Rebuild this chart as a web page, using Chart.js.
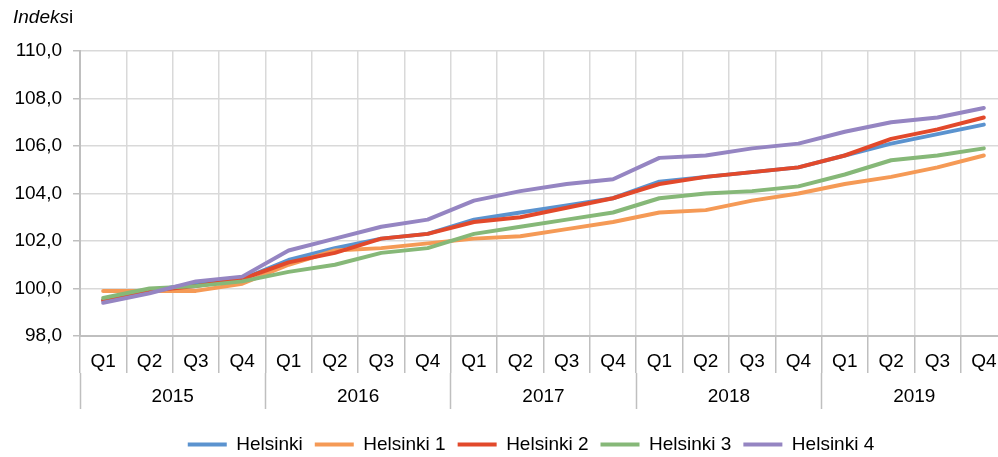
<!DOCTYPE html>
<html>
<head>
<meta charset="utf-8">
<script src="https://cdn.jsdelivr.net/npm/chart.js@4/dist/chart.umd.min.js"></script>
<style>
  html, body { margin: 0; padding: 0; background: #fff; overflow: hidden; }
  #wrap { width: 998px; height: 457px; overflow: hidden; }
</style>
</head>
<body>
<div id="wrap"><canvas id="chart" width="1052" height="466"></canvas></div>
<script>
// Index series by quarter, 2015-2019
const years = ['2015', '2016', '2017', '2018', '2019'];
const quarters = ['Q1', 'Q2', 'Q3', 'Q4'];
const seriesNames = ['Helsinki', 'Helsinki 1', 'Helsinki 2', 'Helsinki 3', 'Helsinki 4'];

const helsinki  = [99.5, 99.9, 100.2, 100.4, 101.2, 101.7, 102.1, 102.3, 102.9, 103.2, 103.5, 103.8, 104.5, 104.7, 104.9, 105.1, 105.6, 106.1, 106.5, 106.9];
const helsinki1 = [99.9, 99.9, 99.9, 100.2, 101.0, 101.6, 101.7, 101.9, 102.1, 102.2, 102.5, 102.8, 103.2, 103.3, 103.7, 104.0, 104.4, 104.7, 105.1, 105.6];
const helsinki2 = [99.5, 99.9, 100.1, 100.4, 101.1, 101.5, 102.1, 102.3, 102.8, 103.0, 103.4, 103.8, 104.4, 104.7, 104.9, 105.1, 105.6, 106.3, 106.7, 107.2];
const helsinki3 = [99.6, 100.0, 100.1, 100.3, 100.7, 101.0, 101.5, 101.7, 102.3, 102.6, 102.9, 103.2, 103.8, 104.0, 104.1, 104.3, 104.8, 105.4, 105.6, 105.9];
const helsinki4 = [99.4, 99.8, 100.3, 100.5, 101.6, 102.1, 102.6, 102.9, 103.7, 104.1, 104.4, 104.6, 105.5, 105.6, 105.9, 106.1, 106.6, 107.0, 107.2, 107.6];

const yTicks = { min: 98, max: 110, step: 2 };

const colors = ['#5B93CF', '#F59A56', '#E2492B', '#86B878', '#9585C2'];
const FONT = "'Liberation Sans', Arial, sans-serif";
const SIZE = 19;

let labels = [];
years.forEach(y => quarters.forEach(q => labels.push(q)));

const allData = [helsinki, helsinki1, helsinki2, helsinki3, helsinki4];
const datasets = allData.map((d, i) => ({
  label: seriesNames[i],
  data: d,
  borderColor: colors[i],
  backgroundColor: colors[i],
  borderWidth: 4,
  pointRadius: 0,
  tension: 0,
  borderCapStyle: 'round',
  borderJoinStyle: 'round',
  order: 4 - i
}));

// "Indeksi" label top-left
const titlePlugin = {
  id: 'unitTitle',
  afterDraw(chart) {
    const ctx = chart.ctx;
    ctx.save();
    ctx.fillStyle = '#000';
    ctx.textBaseline = 'alphabetic';
    ctx.font = 'italic ' + SIZE + 'px ' + FONT;
    ctx.fillText('Indeks', 13, 23);
    let w = ctx.measureText('Indeks').width;
    ctx.font = SIZE + 'px ' + FONT;
    ctx.fillText('i', 13 + w, 23);
    ctx.restore();
  }
};

new Chart(document.getElementById('chart'), {
  type: 'line',
  data: { labels: labels, datasets: datasets },
  plugins: [titlePlugin],
  options: {
    responsive: false,
    animation: false,
    layout: { padding: { left: 10, top: 51, right: 0, bottom: 2 } },
    plugins: {
      tooltip: { enabled: false },
      legend: {
        position: 'bottom',
        labels: {
          usePointStyle: true,
          pointStyle: 'line',
          pointStyleWidth: 39,
          boxHeight: SIZE,
          padding: 12,
          color: '#000',
          font: { family: FONT, size: SIZE },
          sort: (a, b) => a.datasetIndex - b.datasetIndex
        }
      }
    },
    scales: {
      x: {
        offset: true,
        weight: 0,
        grid: { offset: true, color: '#d9d9d9', lineWidth: 1.5, tickLength: 37, tickColor: '#bfbfbf', tickWidth: 1.5 },
        border: { color: '#bfbfbf', width: 2 },
        ticks: { autoSkip: false, maxRotation: 0, padding: -23, color: '#000', font: { family: FONT, size: SIZE } },
        afterFit(scale) { scale.height = 37; }
      },
      x2: {
        type: 'category',
        labels: years,
        position: 'bottom',
        offset: true,
        weight: 1,
        grid: { offset: true, drawOnChartArea: false, tickLength: 36, tickColor: '#bfbfbf', tickWidth: 1.5 },
        border: { display: false },
        ticks: { autoSkip: false, maxRotation: 0, padding: -24, color: '#000', font: { family: FONT, size: SIZE } },
        afterFit(scale) { scale.height = 50; }
      },
      y: {
        min: yTicks.min,
        max: yTicks.max,
        grid: { color: '#d9d9d9', lineWidth: 1.5, tickLength: 7, tickColor: '#bfbfbf' },
        border: { color: '#bfbfbf', width: 2 },
        ticks: {
          stepSize: yTicks.step,
          padding: 11,
          color: '#000',
          font: { family: FONT, size: SIZE },
          callback: v => v.toFixed(1).replace('.', ',')
        },
        afterFit(scale) { scale.width = 70; }
      },
      // empty right-hand spacer so the legend centres like the original
      yRight: {
        position: 'right',
        min: yTicks.min,
        max: yTicks.max,
        grid: { display: false },
        border: { display: false },
        ticks: { display: false },
        afterFit(scale) { scale.width = 45; }
      }
    }
  }
});
</script>
</body>
</html>
